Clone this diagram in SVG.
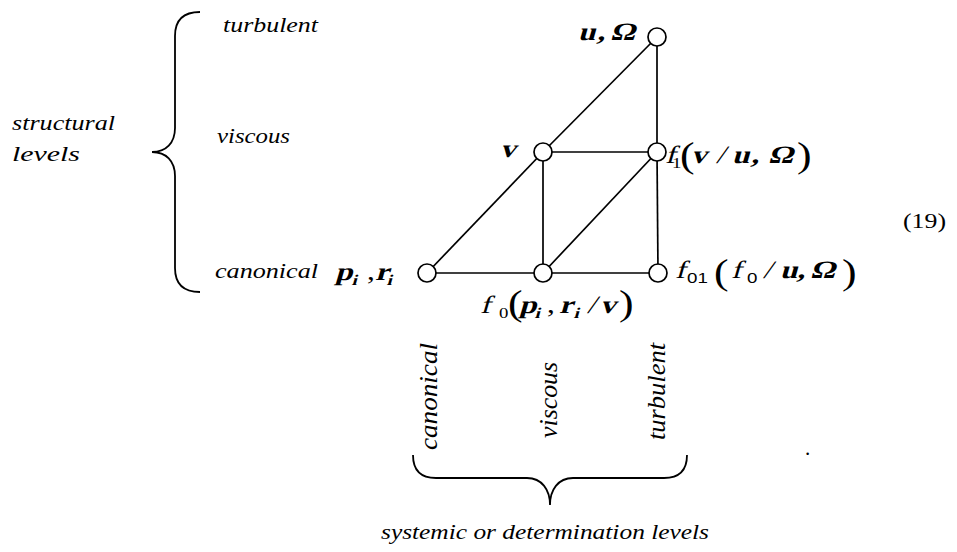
<svg xmlns="http://www.w3.org/2000/svg" width="957" height="552" viewBox="0 0 957 552">
<style>
.t{font-family:"Liberation Serif","Times New Roman","DejaVu Serif",serif;font-size:21px;fill:#000}
.it{font-style:italic}
.m{font-family:"Liberation Serif","Times New Roman","DejaVu Serif",serif;font-size:25px;fill:#000}
.b{font-weight:bold}
.sub{font-size:15px}
.par{font-size:35px}
.sans{font-family:"Liberation Sans",Arial,sans-serif;font-size:15px}
.vt{font-family:"Liberation Serif","Times New Roman","DejaVu Serif",serif;font-size:26px;fill:#000}
.ln{stroke:#000;stroke-width:1.7;fill:none}
.nd{stroke:#000;stroke-width:1.7;fill:#fff}
.br{stroke:#000;stroke-width:1.8;fill:none}
</style>
<rect width="957" height="552" fill="#fff"/>

<g id="connectors" class="ln">
<line x1="657" y1="37" x2="543" y2="152"/>
<line x1="657" y1="37" x2="657" y2="152"/>
<line x1="543" y1="152" x2="657" y2="152"/>
<line x1="543" y1="152" x2="543" y2="273"/>
<line x1="657" y1="152" x2="543" y2="273"/>
<line x1="543" y1="152" x2="427" y2="273"/>
<line x1="427" y1="273" x2="658" y2="273"/>
<line x1="657" y1="152" x2="658" y2="273"/>
</g>

<g id="node-u-omega">
<circle class="nd" cx="657" cy="37" r="9"/>
<g transform="translate(578 40) scale(1.25 1)">
<text class="m b" transform="skewX(-13)"><tspan x="0">u</tspan><tspan x="15.2">,</tspan><tspan x="25.6">Ω</tspan></text>
</g>
</g>

<g id="node-v">
<circle class="nd" cx="543" cy="152" r="9"/>
<g transform="translate(500 157) scale(1.25 1)">
<text class="m b" transform="skewX(-13)">v</text>
</g>
</g>

<g id="node-f1">
<circle class="nd" cx="657" cy="152" r="9"/>
<g transform="translate(665 163) scale(1.25 1)">
<text class="m" transform="skewX(-13)"><tspan x="0">f</tspan><tspan class="b" x="20.8">v</tspan><tspan x="40.8">/</tspan><tspan class="b" x="53.6">u</tspan><tspan class="b" x="68.8">,</tspan><tspan class="b" x="82.4">Ω</tspan></text>
<text class="m"><tspan class="sub" x="5.6" y="5">1</tspan><tspan class="par" x="12" y="4">(</tspan><tspan class="par" x="105.6" y="4">)</tspan></text>
</g>
</g>

<g id="node-p-r">
<circle class="nd" cx="427" cy="273" r="9"/>
<g transform="translate(335 280) scale(1.25 1)">
<text class="m b" transform="skewX(-13)"><tspan x="0">p</tspan><tspan class="sub" x="14.4" y="5">i</tspan><tspan x="32" y="0">r</tspan><tspan class="sub" x="42.4" y="5">i</tspan></text>
<text class="m" x="25.6" y="0">,</text>
</g>
</g>

<g id="node-f0">
<circle class="nd" cx="543" cy="273" r="9"/>
<g transform="translate(480 313) scale(1.25 1)">
<text class="m" transform="skewX(-13)"><tspan x="0">f</tspan><tspan class="b" x="31.2">p</tspan><tspan class="b sub" x="44.8" y="5">i</tspan><tspan class="b" x="63.2" y="0">r</tspan><tspan class="b sub" x="76" y="5">i</tspan><tspan x="85.6" y="0">/</tspan><tspan class="b" x="96">v</tspan></text>
<text class="m"><tspan class="sub" x="15.2" y="5">0</tspan><tspan class="par" x="22.4" y="2">(</tspan><tspan x="53.6" y="0">,</tspan><tspan class="par" x="111.2" y="2">)</tspan></text>
</g>
</g>

<g id="node-f01">
<circle class="nd" cx="658" cy="273" r="9"/>
<g transform="translate(675 278) scale(1.25 1)">
<text class="m" transform="skewX(-13)"><tspan x="0">f</tspan><tspan x="44.8">f</tspan><tspan x="70.4">/</tspan><tspan class="b" x="84">u</tspan><tspan class="b" x="97.6">,</tspan><tspan class="b" x="108">Ω</tspan></text>
<text class="m"><tspan class="sans" x="9.6" y="5">01</tspan><tspan class="par" x="31.2" y="6">(</tspan><tspan class="sans" x="57.6" y="5">0</tspan><tspan class="par" x="133.6" y="6">)</tspan></text>
</g>
</g>

<g id="structural-levels">
<path class="br" d="M200,12 C184,12 175,20 175,36 L175,128 C175,143 166,152 152,152 C166,152 175,161 175,176 L175,268 C175,284 184,292 200,292"/>
<text class="t it" x="12" y="130" textLength="103" lengthAdjust="spacingAndGlyphs">structural</text>
<text class="t it" x="12" y="161" textLength="68" lengthAdjust="spacingAndGlyphs">levels</text>
<text class="t it" x="223" y="32" textLength="95" lengthAdjust="spacingAndGlyphs">turbulent</text>
<text class="t it" x="217" y="143" textLength="73" lengthAdjust="spacingAndGlyphs">viscous</text>
<text class="t it" x="215" y="278" textLength="103" lengthAdjust="spacingAndGlyphs">canonical</text>
</g>

<g id="systemic-levels">
<text class="vt it" transform="translate(437 450) rotate(-90)" textLength="107" lengthAdjust="spacingAndGlyphs">canonical</text>
<text class="vt it" transform="translate(557 438) rotate(-90)" textLength="76" lengthAdjust="spacingAndGlyphs">viscous</text>
<text class="vt it" transform="translate(665 440) rotate(-90)" textLength="97" lengthAdjust="spacingAndGlyphs">turbulent</text>
<path class="br" d="M413,455 C413,470 421,478 436,478 L527,478 C542,478 550,490 550,505 C550,490 558,478 573,478 L664,478 C679,478 687,470 687,455"/>
<text class="t it" x="381" y="539" textLength="328" lengthAdjust="spacingAndGlyphs">systemic or determination levels</text>
</g>

<g id="equation-number">
<text class="t" x="903" y="228" textLength="43" lengthAdjust="spacingAndGlyphs">(19)</text>
<text class="t" x="805" y="455">.</text>
</g>
</svg>
